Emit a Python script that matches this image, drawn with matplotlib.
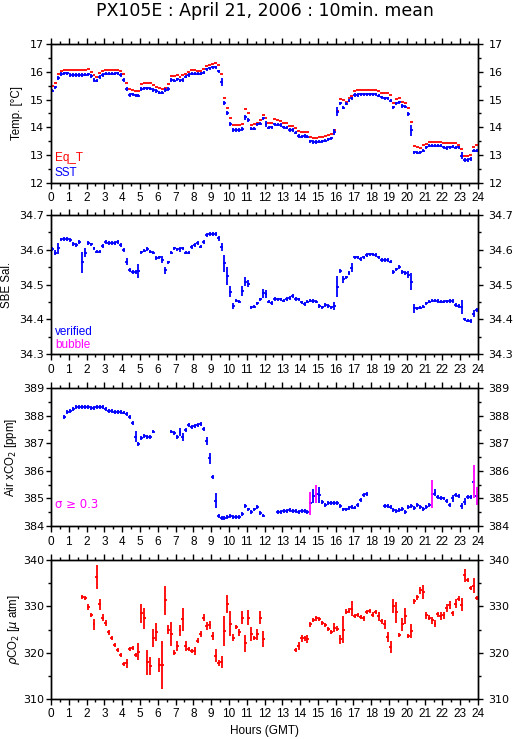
import numpy as np
import matplotlib
matplotlib.use("Agg")
import matplotlib.pyplot as plt
from matplotlib.ticker import MultipleLocator

plt.rcParams['font.family'] = ['Liberation Sans', 'DejaVu Sans']

nan = np.nan

# 10分平均値 (0:00 から 23:50 まで 144 個, 1行 = 1時間)
eq_t = [
    15.51, 15.59, 15.92, 16.05, 16.08, 16.08,
    16.06, 16.06, 16.06, 16.06, 16.06, 16.06,
    16.10, 16.01, 15.90, 15.82, 15.95, 16.02,
    16.08, 16.08, 16.08, 16.08, 16.08, 16.02,
    15.92, 15.59, 15.37, 15.35, 15.33, 15.31,
    15.55, 15.59, 15.59, 15.59, 15.53, 15.47,
    15.41, 15.37, 15.41, 15.57, 15.84, 15.84,
    15.89, 15.83, 15.89, 15.94, 15.99, 16.07,
    16.07, 16.05, 16.03, 16.10, 16.22, 16.27,
    16.28, 16.31, 16.25, 15.92, 15.07, 14.71,
    14.35, 14.07, 14.07, 14.07, 14.11, 14.65,
    14.51, 14.09, 14.11, 14.17, 14.27, 14.45,
    14.33, 14.14, 14.14, 14.29, 14.27, 14.24,
    14.17, 14.14, 14.06, 14.06, 13.96, 13.87,
    13.84, 13.84, 13.82, 13.66, 13.63, 13.63,
    13.64, 13.66, 13.69, 13.72, 13.75, 13.90,
    14.59, 15.01, 14.99, 14.93, 15.05, 15.13,
    15.31, 15.35, 15.35, 15.35, 15.35, 15.35,
    15.35, 15.35, 15.31, 15.25, 15.23, 15.23,
    15.17, 14.89, 15.01, 15.05, 14.93, 14.89,
    14.69, 14.20, 13.33, 13.28, 13.24, 13.36,
    13.41, 13.48, 13.48, 13.48, 13.48, 13.48,
    13.42, 13.45, 13.42, 13.45, 13.42, 13.36,
    13.22, 12.96, 12.96, 13.00, 13.28, 13.36,
]

sst = [
    15.33, 15.45, 15.77, 15.93, 15.95, 15.95,
    15.89, 15.89, 15.89, 15.89, 15.89, 15.90,
    15.92, 15.86, 15.71, 15.69, 15.82, 15.89,
    15.94, 15.94, 15.94, 15.94, 15.95, 15.89,
    15.71, 15.37, 15.17, 15.19, 15.16, 15.14,
    15.39, 15.41, 15.41, 15.40, 15.35, 15.31,
    15.25, 15.25, 15.35, 15.39, 15.71, 15.69,
    15.73, 15.69, 15.71, 15.83, 15.89, 15.94,
    15.94, 15.94, 15.94, 15.98, 16.10, 16.13,
    16.17, 16.17, 16.02, 15.65, 14.87, 14.53,
    14.12, 13.90, 13.90, 13.90, 13.94, 14.36,
    14.27, 13.95, 13.95, 14.11, 14.13, 14.33,
    14.12, 13.99, 14.00, 14.11, 14.10, 14.08,
    14.00, 13.99, 13.90, 13.90, 13.81, 13.69,
    13.66, 13.69, 13.66, 13.49, 13.47, 13.47,
    13.48, 13.50, 13.52, 13.57, 13.60, 13.84,
    14.57, 14.87, 14.71, 14.85, 14.96, 15.05,
    15.17, 15.17, 15.19, 15.19, 15.19, 15.19,
    15.19, 15.19, 15.14, 15.08, 15.05, 15.05,
    14.96, 14.72, 14.87, 14.90, 14.77, 14.75,
    14.48, 13.90, 13.10, 13.08, 13.10, 13.16,
    13.28, 13.34, 13.34, 13.34, 13.34, 13.34,
    13.28, 13.25, 13.28, 13.30, 13.27, 13.28,
    12.98, 12.82, 12.82, 12.86, 13.16, 13.16,
]
sst_sd_default = 0.03
sst_sd = {2: 0.07, 14: 0.06, 24: 0.06, 25: 0.07, 29: 0.06, 36: 0.06, 40: 0.04,
          43: 0.06, 57: 0.15, 58: 0.08, 59: 0.07, 60: 0.06, 65: 0.1, 66: 0.08,
          72: 0.1, 95: 0.1, 96: 0.15, 98: 0.06, 99: 0.05, 114: 0.05, 120: 0.06,
          121: 0.2, 138: 0.12, 142: 0.05}

sal = [
    34.602, 34.592, 34.604, 34.630, 34.631, 34.631,
    34.628, 34.616, 34.614, 34.622, 34.564, 34.592,
    34.619, 34.616, 34.604, 34.595, 34.595, 34.611,
    34.623, 34.620, 34.619, 34.620, 34.622, 34.614,
    34.600, 34.566, 34.542, 34.537, 34.537, 34.539,
    34.593, 34.598, 34.603, 34.595, 34.592, 34.576,
    34.578, 34.571, 34.542, 34.564, 34.592, 34.604,
    34.601, 34.601, 34.604, 34.592, 34.592, 34.607,
    34.614, 34.619, 34.609, 34.622, 34.643, 34.645,
    34.645, 34.646, 34.633, 34.609, 34.561, 34.525,
    34.480, 34.439, 34.454, 34.451, 34.482, 34.509,
    34.502, 34.435, 34.437, 34.446, 34.458, 34.475,
    34.474, 34.451, 34.448, 34.459, 34.458, 34.458,
    34.454, 34.459, 34.461, 34.467, 34.459, 34.458,
    34.449, 34.445, 34.451, 34.454, 34.453, 34.451,
    34.439, 34.435, 34.442, 34.439, 34.435, 34.439,
    34.494, 34.539, 34.516, 34.521, 34.534, 34.549,
    34.578, 34.578, 34.573, 34.578, 34.585, 34.587,
    34.587, 34.585, 34.578, 34.571, 34.571, 34.571,
    34.566, 34.537, 34.544, 34.550, 34.537, 34.534,
    34.528, 34.509, 34.432, 34.432, 34.434, 34.437,
    34.446, 34.451, 34.454, 34.454, 34.453, 34.451,
    34.451, 34.452, 34.453, 34.453, 34.442, 34.439,
    34.437, 34.400, 34.397, 34.395, 34.416, 34.427,
]
sal_sd_default = 0.003
sal_sd = {1: 0.007, 2: 0.017, 7: 0.006, 10: 0.03, 11: 0.012, 12: 0.005, 25: 0.01,
          29: 0.02, 37: 0.01, 38: 0.01, 39: 0.005, 43: 0.008, 47: 0.006, 51: 0.006,
          56: 0.008, 57: 0.012, 58: 0.025, 59: 0.025, 60: 0.015, 61: 0.008,
          64: 0.015, 65: 0.012, 66: 0.01, 71: 0.012, 72: 0.012, 95: 0.012,
          96: 0.03, 98: 0.01, 101: 0.012, 120: 0.01, 121: 0.025, 122: 0.012,
          138: 0.02, 142: 0.01}

xco2 = [
    nan, nan, nan, nan, 387.97, 388.13,
    388.19, 388.24, 388.31, 388.32, 388.32, 388.32,
    388.32, 388.27, 388.30, 388.31, 388.31, 388.31,
    388.25, 388.19, 388.19, 388.15, 388.13, 388.13,
    388.12, 388.07, 387.97, 387.75, 387.24, 386.98,
    387.18, 387.27, 387.24, 387.22, 387.43, nan,
    nan, nan, nan, nan, 387.43, 387.37,
    387.24, 387.42, 387.24, 387.49, 387.67, 387.61,
    387.63, 387.67, 387.70, 387.51, 387.09, 386.46,
    385.77, 384.92, 384.36, 384.28, 384.28, 384.34,
    384.36, 384.34, 384.32, 384.34, 384.44, 384.73,
    384.60, 384.52, 384.60, 384.68, 384.46, 384.38,
    nan, nan, nan, nan, 384.50, 384.50,
    384.53, 384.55, 384.58, 384.55, 384.53, 384.50,
    384.53, 384.53, 384.50, 384.82, 385.09, 385.16,
    385.12, 384.88, 384.76, 384.84, 384.84, 384.84,
    384.84, 384.73, 384.60, 384.60, 384.64, 384.70,
    384.67, 384.76, 384.94, 385.12, 385.16, nan,
    nan, nan, nan, nan, 384.73, 384.73,
    384.68, 384.58, 384.56, 384.58, 384.61, 384.52,
    384.68, 384.73, 384.64, 384.76, 384.68, 384.61,
    384.70, 384.76, 385.16, 385.21, 385.04, 385.03,
    385.00, 384.92, 384.76, 385.00, 385.12, 385.08,
    384.73, 384.88, 385.06, 385.04, 385.60, 385.09,
]
xco2_sd_default = 0.03
xco2_sd = {27: 0.05, 28: 0.2, 29: 0.05, 30: 0.07, 42: 0.07, 43: 0.15, 44: 0.15,
           52: 0.15, 53: 0.2, 54: 0.08, 55: 0.28, 64: 0.06, 65: 0.06, 87: 0.42,
           88: 0.25, 89: 0.33, 90: 0.28, 103: 0.06, 128: 0.5, 129: 0.12,
           135: 0.12, 138: 0.12, 139: 0.12, 142: 0.6, 143: 0.32}
xco2_sigma_limit = 0.3

pco2 = [
    nan, nan, nan, nan, nan, nan,
    nan, nan, nan, nan, 332.1, 331.8,
    329.9, 328.2, 326.1, 336.3, 330.5, 327.6,
    326.4, 324.4, 323.1, 321.7, 320.5, 319.5,
    317.6, 317.7, 320.8, 321.0, 319.5, 320.2,
    328.5, 327.4, 317.9, 317.1, 323.1, 324.4,
    317.3, 317.3, 331.3, 325.0, 324.1, 320.0,
    321.4, 324.8, 327.2, 321.4, 320.8, 320.3,
    320.3, 322.6, 324.0, 327.6, 325.7, 326.0,
    323.6, 319.3, 317.7, 318.0, 324.7, 330.5,
    326.3, 323.2, 325.6, 324.4, 327.6, 322.0,
    327.6, 324.0, 323.1, 324.0, 327.6, 322.9,
    nan, nan, nan, nan, nan, nan,
    nan, nan, nan, nan, 320.5, 321.4,
    323.1, 323.1, 322.9, 326.1, 327.0, 327.4,
    327.2, 326.5, 326.0, 325.2, 324.5, 325.4,
    325.2, 322.9, 325.0, 328.9, 329.1, 329.5,
    327.9, 328.1, 327.7, 327.4, 328.8, 329.0,
    328.2, 328.8, 327.9, 326.8, 326.1, 323.4,
    321.1, 330.1, 328.7, 323.8, 326.1, 327.9,
    323.6, 324.6, 331.1, 332.0, 333.5, 333.1,
    328.1, 327.6, 327.0, 326.3, 328.3, 327.9,
    328.1, 329.7, 330.3, 328.5, 330.6, 331.7,
    330.4, 336.8, 335.7, 334.0, 334.5, 331.8,
]
pco2_sd = [
    0, 0, 0, 0, 0, 0,
    0, 0, 0, 0, 0.3, 0.3,
    0.7, 0.4, 1.1, 2.6, 1.2, 0.8,
    0.6, 0.5, 0.4, 0.4, 0.3, 0.5,
    0.4, 1.0, 0.5, 0.5, 0.5, 1.9,
    2.1, 2.3, 2.7, 2.0, 2.0, 2.0,
    1.5, 5.2, 3.2, 1.0, 2.6, 0.3,
    1.0, 1.2, 2.5, 1.0, 0.5, 0.4,
    0.8, 0.4, 0.6, 0.8, 0.9, 0.9,
    0.8, 1.4, 0.6, 1.3, 3.2, 2.0,
    2.8, 0.8, 0.4, 0.8, 1.4, 1.9,
    1.7, 1.5, 0.4, 1.2, 1.4, 1.8,
    0, 0, 0, 0, 0, 0,
    0, 0, 0, 0, 0.3, 0.8,
    0.8, 0.5, 0.8, 0.5, 0.4, 0.4,
    0.4, 0.4, 0.4, 0.4, 0.5, 1.0,
    0.6, 1.0, 3.0, 0.4, 0.5, 1.6,
    0.5, 0.4, 0.5, 0.5, 0.4, 0.5,
    0.5, 0.2, 1.0, 0.5, 1.0, 1.1,
    1.3, 1.5, 2.3, 0.5, 1.4, 1.7,
    0.5, 1.5, 0.5, 0.5, 0.7, 1.5,
    0.8, 0.5, 0.8, 0.8, 0.5, 0.8,
    0.8, 0.8, 0.8, 0.5, 1.0, 0.5,
    1.4, 1.4, 0.5, 0.5, 1.6, 0.5,
]

RED = '#ff0000'
BLUE = '#0000ff'
MAGENTA = '#ff00ff'
LW = 1.3
TICK_FONT = ['DejaVu Sans']


def sd_array(n, default, overrides):
    arr = np.full(n, default)
    for k, v in overrides.items():
        arr[k] = v
    return arr


def draw_mean(ax, vals, sds, color, err_colors=None, with_err=True, min_half=0.0):
    """10分区間の水平線と標準偏差の縦線を描く (縦線は最低 min_half の長さで表示)"""
    vals = np.asarray(vals, dtype=float)
    n = len(vals)
    t0 = np.arange(n) / 6.0
    ok = ~np.isnan(vals)
    ax.hlines(vals[ok], t0[ok], t0[ok] + 1 / 6.0, colors=color, lw=LW,
              capstyle='butt', zorder=3)
    if with_err:
        half = np.maximum(np.asarray(sds, dtype=float), min_half)
        tc = t0 + 1 / 12.0
        cols = err_colors if err_colors is not None else [color] * n
        cols = np.asarray(cols, dtype=object)
        ax.vlines(tc[ok], vals[ok] - half[ok], vals[ok] + half[ok],
                  colors=list(cols[ok]), lw=LW, capstyle='butt', zorder=4)


def set_tick_font(ax):
    for lab in ax.get_yticklabels():
        lab.set_family(TICK_FONT)


def style_axes(ax, ylim, ymajor, yminor, fmt):
    ax.set_xlim(0, 24)
    ax.set_ylim(*ylim)
    ax.xaxis.set_major_locator(MultipleLocator(1))
    ax.xaxis.set_minor_locator(MultipleLocator(0.5))
    ax.yaxis.set_major_locator(MultipleLocator(ymajor))
    ax.yaxis.set_minor_locator(MultipleLocator(yminor))
    ax.yaxis.set_major_formatter(plt.FuncFormatter(lambda v, p: fmt % v))
    ax.tick_params(axis='both', which='both', direction='out', top=True,
                   right=False, width=1.0, colors='black')
    ax.tick_params(axis='x', labelsize=8.5)
    ax.tick_params(axis='y', labelsize=8.0)
    ax.tick_params(axis='x', which='major', length=4.5, pad=2.5)
    ax.tick_params(axis='x', which='minor', length=2.5)
    ax.tick_params(axis='y', which='major', length=3.5, pad=1.5)
    ax.tick_params(axis='y', which='minor', length=2.5)
    for s in ax.spines.values():
        s.set_linewidth(1.0)
    set_tick_font(ax)
    # 右側の目盛ラベル
    tw = ax.twinx()
    tw.set_ylim(*ylim)
    tw.yaxis.set_major_locator(MultipleLocator(ymajor))
    tw.yaxis.set_minor_locator(MultipleLocator(yminor))
    tw.yaxis.set_major_formatter(plt.FuncFormatter(lambda v, p: fmt % v))
    tw.tick_params(axis='y', which='both', direction='out', labelsize=8.0,
                   width=1.0)
    tw.tick_params(axis='y', which='major', length=3.5, pad=4.0)
    tw.tick_params(axis='y', which='minor', length=2.5)
    for s in tw.spines.values():
        s.set_linewidth(1.0)
    set_tick_font(tw)
    return tw


fig = plt.figure(figsize=(5.15, 7.39), dpi=100)

L, W = 51 / 515, 427 / 515
panel_px = [(44.3, 182.7), (215.0, 354.3), (388.3, 526.0), (560.3, 698.7)]
axes = []
for top, bot in panel_px:
    axes.append(fig.add_axes([L, 1 - bot / 739, W, (bot - top) / 739]))
ax1, ax2, ax3, ax4 = axes

n = 144

# 水温
style_axes(ax1, (12, 17), 1, 0.5, '%d')
draw_mean(ax1, eq_t, None, RED, with_err=False)
draw_mean(ax1, sst, sd_array(n, sst_sd_default, sst_sd), BLUE, min_half=0.06)
ax1.text(0.009, 0.177, 'Eq_T', color=RED, fontsize=8.5, transform=ax1.transAxes,
         ha='left', va='center')
ax1.text(0.009, 0.072, 'SST', color=BLUE, fontsize=8.5, transform=ax1.transAxes,
         ha='left', va='center')
ax1.text(-0.0785, 0.5, 'Temp. [°C]', rotation=90, fontsize=8.3,
         transform=ax1.transAxes, ha='center', va='center')

# 塩分
style_axes(ax2, (34.3, 34.7), 0.1, 0.05, '%.1f')
draw_mean(ax2, sal, sd_array(n, sal_sd_default, sal_sd), BLUE, min_half=0.005)
ax2.text(0.009, 0.158, 'verified', color=BLUE, fontsize=8.5,
         transform=ax2.transAxes, ha='left', va='center')
ax2.text(0.009, 0.067, 'bubble', color=MAGENTA, fontsize=8.5,
         transform=ax2.transAxes, ha='left', va='center')
ax2.text(-0.104, 0.5, 'SBE Sal.', rotation=90, fontsize=8.3,
         transform=ax2.transAxes, ha='center', va='center')

# 大気 xCO2
style_axes(ax3, (384, 389), 1, 0.5, '%d')
xsd = sd_array(n, xco2_sd_default, xco2_sd)
xcols = [MAGENTA if s >= xco2_sigma_limit else BLUE for s in xsd]
draw_mean(ax3, xco2, xsd, BLUE, err_colors=xcols, min_half=0.07)
ax3.text(0.009, 0.158, 'σ ≥ 0.3', color=MAGENTA, fontsize=8.5,
         transform=ax3.transAxes, ha='left', va='center',
         family=['DejaVu Sans'])
ax3.text(-0.0937, 0.5, 'Air xCO$_2$ [ppm]', rotation=90, fontsize=8.3,
         transform=ax3.transAxes, ha='center', va='center')

# pCO2
style_axes(ax4, (310, 340), 10, 5, '%d')
draw_mean(ax4, pco2, pco2_sd, RED, min_half=0.45)
ax4.text(-0.0867, 0.5, r'$\rho$CO$_2$ [$\mu$ atm]', rotation=90, fontsize=8.3,
         transform=ax4.transAxes, ha='center', va='center')
ax4.text(0.5, -0.233, 'Hours (GMT)', fontsize=8.5, transform=ax4.transAxes,
         ha='center', va='center')

fig.text(264.5 / 515, 1 - 11.5 / 739, 'PX105E : April 21, 2006 : 10min. mean',
         fontsize=12.5, ha='center', va='center', family=['DejaVu Sans'])

fig.savefig('out.png', dpi=100)
